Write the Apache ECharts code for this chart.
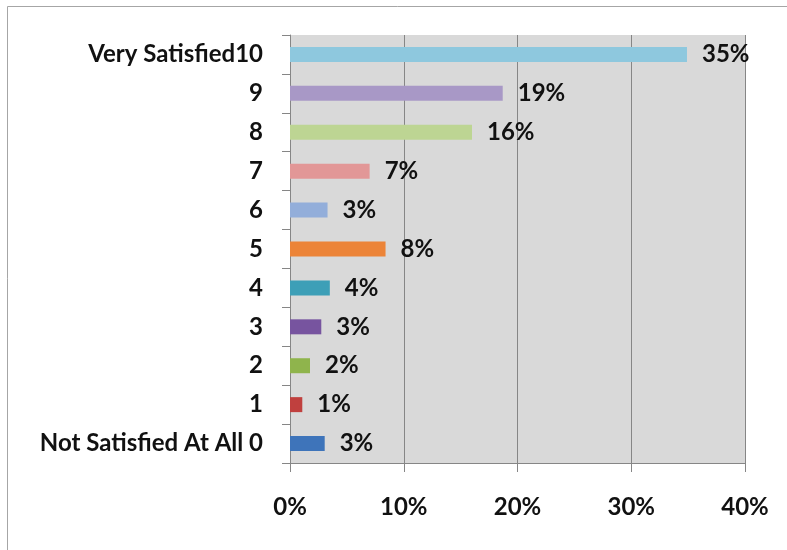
<!DOCTYPE html>
<html>
<head>
<meta charset="utf-8">
<script src="https://cdn.jsdelivr.net/npm/echarts@6/dist/echarts.min.js"></script>
<style>html,body{margin:0;padding:0;background:#fff;}#c{width:787px;height:550px;}</style>
</head>
<body>
<div id="c"></div>
<script>
var categories = ['Not Satisfied At All 0', '1', '2', '3', '4', '5', '6', '7', '8', '9', 'Very Satisfied10'];
var values = [3.05, 1.08, 1.76, 2.75, 3.5, 8.4, 3.3, 7.0, 16.0, 18.7, 34.9];
var barColors = ['#3E74BA', '#C0403E', '#8FB44C', '#77549F', '#3D9FB7', '#EC8438', '#93AEDA', '#E29797', '#BDD593', '#A898C6', '#8EC8DE'];
var xTicks = [0, 10, 20, 30, 40];

var FONT = 'Lato';
var FS = 24;
var chart = echarts.init(document.getElementById('c'));
chart.setOption({
  animation: false,
  backgroundColor: '#fff',
  grid: { left: 290, right: 42, top: 35, bottom: 87, show: true, backgroundColor: '#D9D9D9', borderWidth: 0 },
  xAxis: {
    type: 'value', min: xTicks[0], max: xTicks[xTicks.length - 1], interval: 10,
    axisLine: { show: true, lineStyle: { color: '#868686', width: 1 } },
    axisTick: { show: true, length: 9, lineStyle: { color: '#868686' } },
    splitLine: { show: true, lineStyle: { color: '#868686', width: 1 } },
    axisLabel: { formatter: '{value}%', color: '#111', fontFamily: FONT, fontWeight: 'bold', fontSize: FS, margin: 32 }
  },
  yAxis: {
    type: 'category', data: categories,
    axisLine: { show: true, lineStyle: { color: '#868686', width: 1 } },
    axisTick: { show: true, length: 8, inside: false, lineStyle: { color: '#868686' } },
    axisLabel: { color: '#111', fontFamily: FONT, fontWeight: 'bold', fontSize: FS, margin: 27 }
  },
  series: [{
    type: 'bar', barWidth: 15,
    data: values.map(function (v, i) { return { value: v, itemStyle: { color: barColors[i] } }; }),
    label: {
      show: true, position: 'right', distance: 15, color: '#111', fontFamily: FONT, fontWeight: 'bold', fontSize: FS,
      formatter: function (p) { return Math.round(p.value) + '%'; }
    }
  }],
  graphic: [
    { type: 'line', shape: { x1: 7.5, y1: 6.5, x2: 787, y2: 6.5 }, style: { stroke: '#A6A6A6', lineWidth: 1 } },
    { type: 'line', shape: { x1: 7.5, y1: 6.5, x2: 7.5, y2: 550 }, style: { stroke: '#A6A6A6', lineWidth: 1 } }
  ]
});
</script>
</body>
</html>
